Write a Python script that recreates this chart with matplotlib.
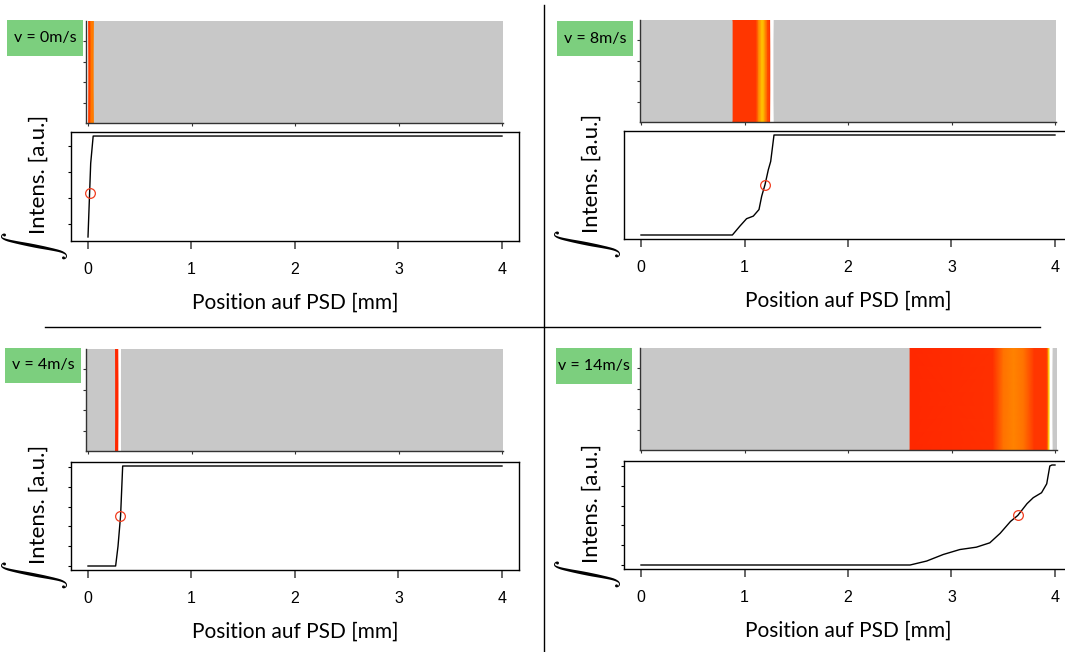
import numpy as np
import matplotlib.pyplot as plt
from matplotlib.colors import LinearSegmentedColormap
from matplotlib.patches import Rectangle
from matplotlib.lines import Line2D

W, H = 1065, 652

labels = ["v = 0m/s", "v = 8m/s", "v = 4m/s", "v = 14m/s"]

# integrated intensity vs. position on the PSD [mm]
pos_0 = [0.0, 0.013, 0.026, 0.05, 4.0]
int_0 = [0.5, 1.92, 3.33, 4.38, 4.38]

pos_8 = [0.0, 0.883, 0.956, 1.02, 1.085, 1.14, 1.166, 1.198, 1.23, 1.253, 1.285, 4.0]
int_8 = [0.0, 0.0, 0.45, 0.82, 0.95, 1.28, 1.95, 2.53, 3.28, 3.7, 5.03, 5.03]

pos_4 = [0.0, 0.267, 0.29, 0.315, 0.335, 4.0]
int_4 = [0.0, 0.0, 1.0, 2.55, 5.05, 5.05]

pos_14 = [0.0, 2.60, 2.76, 2.92, 3.08, 3.24, 3.37, 3.47, 3.57, 3.64, 3.73,
          3.79, 3.87, 3.92, 3.95, 3.97, 4.0]
int_14 = [0.0, 0.0, 0.2, 0.53, 0.78, 0.9, 1.12, 1.6, 2.2, 2.5, 3.1,
          3.4, 3.65, 4.1, 5.0, 5.05, 5.05]

# spot centre marked on each curve
mark_x = [0.017, 1.198, 0.312, 3.64]
mark_y = [2.19, 2.53, 2.55, 2.5]

# colour level of the spot image across the detector (0 = red ... 1 = white)
band_x_0 = [-0.02, -0.008, -0.004, 0.004, 0.008, 0.024, 0.03, 0.05]
band_c_0 = [0.3, 0.3, 1.0, 1.0, 0.12, 0.12, 0.33, 0.33]

band_x_8 = [0.89, 1.11, 1.14, 1.165, 1.18, 1.20, 1.225, 1.25, 1.255, 1.275]
band_c_8 = [0.08, 0.08, 0.40, 0.58, 0.58, 0.40, 0.15, 0.10, 1.0, 1.0]

band_x_4 = [0.267, 0.297, 0.300, 0.313]
band_c_4 = [0.03, 0.03, 1.0, 1.0]

band_x_14 = [2.60, 3.40, 3.50, 3.60, 3.70, 3.80, 3.92, 3.94, 3.955, 3.97]
band_c_14 = [0.03, 0.06, 0.30, 0.36, 0.30, 0.08, 0.08, 0.6, 1.0, 1.0]

curves = [(pos_0, int_0), (pos_8, int_8), (pos_4, int_4), (pos_14, int_14)]
bands = [(band_x_0, band_c_0), (band_x_8, band_c_8),
         (band_x_4, band_c_4), (band_x_14, band_c_14)]
yticks = [[1, 2, 3, 4], [], [0, 1, 2, 3, 4, 5], [0, 1, 2, 3, 4, 5]]
xticks = [0, 1, 2, 3, 4]

# pixel layout: x of position 0, heat strip rect, plot box rows, label box rect
ppu = 103.5
layout = [
    (88, (86, 21, 503, 123), (132, 241), (7, 20, 83, 56)),
    (641, (640, 20, 1056, 122), (131, 239), (557, 21, 633, 56)),
    (88, (86, 349, 503, 451), (462, 570), (5, 348, 81, 383)),
    (641, (640, 348, 1057, 450), (461, 569), (556, 348, 632, 384)),
]

heat = LinearSegmentedColormap.from_list(
    "heat", [(0, "#ff2000"), (0.35, "#ff8000"), (0.62, "#ffc800"),
             (0.8, "#ffff50"), (1, "#ffffff")])

fig = plt.figure(figsize=(W / 100, H / 100), dpi=100)


def rect(x0, y0, x1, y1):
    return [x0 / W, 1 - y1 / H, (x1 - x0) / W, (y1 - y0) / H]


def fx(x):
    return x / W


def fy(y):
    return 1 - y / H


for i in range(4):
    ox, hr, (by0, by1), lr = layout[i]

    # spot image strip
    hx = fig.add_axes(rect(*hr))
    hx.set_facecolor("#c8c8c8")
    bx, bc = bands[i]
    hx.pcolormesh(np.array(bx), [0, 1], np.vstack([bc, bc]), shading="gouraud",
                  cmap=heat, vmin=0, vmax=1)
    hx.set_xlim((hr[0] - ox) / ppu, (hr[2] - ox) / ppu)
    hx.set_ylim(0, 1)
    for s in ["top", "right"]:
        hx.spines[s].set_visible(False)
    for s in ["left", "bottom"]:
        hx.spines[s].set_color("#333333")
        hx.spines[s].set_linewidth(1.0)
    hx.set_xticks(xticks)
    hx.set_yticks([0.2, 0.4, 0.6, 0.8])
    hx.tick_params(length=2, width=0.8, color="#333333",
                   labelbottom=False, labelleft=False)

    # integrated intensity
    ax = fig.add_axes(rect(ox - 0.16 * ppu, by0, ox + 4.16 * ppu, by1))
    px, py = curves[i]
    ax.plot(px, py, color="black", lw=1.0)
    ax.plot(mark_x[i], mark_y[i], "o", ms=7, mfc="none", mec="#f03c1e", mew=0.9)
    lo, hi = min(py), max(py)
    pad = 0.04 * (hi - lo)
    ax.set_ylim(lo - pad, hi + pad)
    ax.set_xlim(-0.16, 4.16)
    ax.set_xticks(xticks)
    ax.set_xticklabels([str(t) for t in xticks], family="Liberation Sans", fontsize=11.5)
    ax.set_yticks(yticks[i])
    ax.set_yticklabels([])
    ax.tick_params(axis="x", length=6, width=1.4, color="#666666", pad=9)
    ax.tick_params(axis="y", length=2.5, width=0.8)
    for s in ax.spines.values():
        s.set_linewidth(1.0)

    fig.text(fx(ox + 2 * ppu), fy(by1 + 62), "Position auf PSD [mm]",
             family="Lato", fontsize=15, ha="center", va="center")
    bl = ox - 0.16 * ppu
    fig.text(fx(bl - 33), fy(by0 + 42), "Intens. [a.u.]", family="Lato",
             fontsize=16, rotation=90, ha="center", va="center")
    fig.text(fx(bl - 36), fy(by1 + 5), r"$\int$", fontsize=21, rotation=90,
             ha="center", va="center", math_fontfamily="cm")

    # speed tag
    fig.add_artist(Rectangle((fx(lr[0]), fy(lr[3])), (lr[2] - lr[0]) / W,
                             (lr[3] - lr[1]) / H, transform=fig.transFigure,
                             facecolor="#7ccf7e", edgecolor="none"))
    fig.text(fx((lr[0] + lr[2]) / 2), fy((lr[1] + lr[3]) / 2), labels[i],
             family="Lato", fontsize=11.5, ha="center", va="center")

# panel dividers
fig.add_artist(Line2D([fx(544), fx(544)], [fy(5), fy(652)], color="black", lw=1))
fig.add_artist(Line2D([fx(45), fx(1040)], [fy(327), fy(327)], color="black", lw=1))

fig.savefig("out.png", dpi=100)
